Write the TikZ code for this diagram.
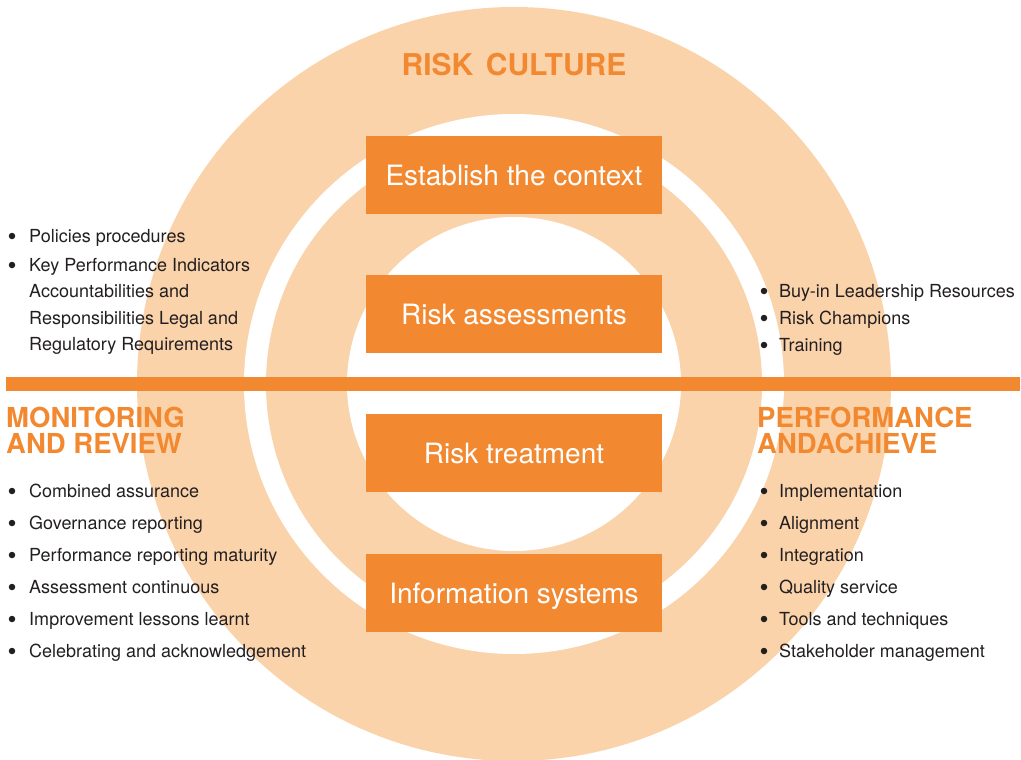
\documentclass[tikz,border=0pt]{standalone}
\usepackage{fontspec}
\setmainfont{TeX Gyre Heros}
\definecolor{riskorange}{RGB}{242,137,49}
\definecolor{risklight}{RGB}{251,211,171}
\definecolor{risktext}{RGB}{35,31,32}
\tikzset{
  stagebox/.style={fill=riskorange, text=white, minimum width=296pt, minimum height=78pt,
    inner sep=0pt, text height=20pt, text depth=0pt, font=\fontsize{28}{32}\selectfont},
  listitem/.style={anchor=base west, inner sep=0pt, text=risktext, font=\fontsize{18}{20}\selectfont},
  bulletdot/.style={circle, fill=risktext, minimum size=6.5pt, inner sep=0pt},
  heading/.style={anchor=base west, inner sep=0pt, text=riskorange, align=left,
    font=\fontsize{27.5}{26}\selectfont\bfseries},
}
\begin{document}
\begin{tikzpicture}[x=1pt,y=-1pt]
\useasboundingbox (0,0) rectangle (1021,760);
% rings
\fill[risklight] (514,384) circle[radius=377pt];
\fill[white] (514,384) circle[radius=270pt];
\fill[risklight] (514,384) circle[radius=248pt];
\fill[white] (514,384) circle[radius=167pt];
% horizontal bar
\fill[riskorange] (6,377) rectangle (1020,391);
% title
\node[anchor=base, inner sep=0pt, text=riskorange, font=\fontsize{30}{30}\selectfont\bfseries] (title) at (514,76) {\spaceskip=0.42em RISK CULTURE};
% stage boxes
\node[stagebox] (b1) at (514,175) {Establish the context};
\node[stagebox] (b2) at (514,314) {Risk assessments};
\node[stagebox] (b3) at (514,453) {Risk treatment};
\node[stagebox] (b4) at (514,593) {Information systems};
% headings
\node[heading] (hmon) at (6,453) {MONITORING\\AND REVIEW};
\node[heading] (hperf) at (757,453) {PERFORMANCE\\ANDACHIEVE};
% top left list
\node[bulletdot] (d1) at (12,236) {};
\node[listitem] (t1) at (29,242) {Policies procedures};
\node[bulletdot] (d2) at (12,265) {};
\node[listitem] (t2) at (29,271) {Key Performance Indicators};
\node[listitem] (t2b) at (29,297) {Accountabilities and};
\node[listitem] (t2c) at (29,324) {Responsibilities Legal and};
\node[listitem] (t2d) at (29,350) {Regulatory Requirements};
% top right list
\node[bulletdot] (d3) at (764,291) {};
\node[listitem] (t3) at (779,297) {Buy-in Leadership Resources};
\node[bulletdot] (d4) at (764,318) {};
\node[listitem] (t4) at (779,324) {Risk Champions};
\node[bulletdot] (d5) at (764,345) {};
\node[listitem] (t5) at (779,351) {Training};
% bottom left list
\foreach \y/\txt [count=\i] in {497/Combined assurance, 529/Governance reporting, 561/Performance reporting maturity, 593/Assessment continuous, 625/Improvement lessons learnt, 657/Celebrating and acknowledgement}{
  \node[bulletdot] (ld\i) at (12,\y-6) {};
  \node[listitem] (lt\i) at (29,\y) {\txt};
}
% bottom right list
\foreach \y/\txt [count=\i] in {497/Implementation, 529/Alignment, 561/Integration, 593/Quality service, 625/Tools and techniques, 657/Stakeholder management}{
  \node[bulletdot] (rd\i) at (764,\y-6) {};
  \node[listitem] (rt\i) at (779,\y) {\txt};
}
\end{tikzpicture}
\end{document}
